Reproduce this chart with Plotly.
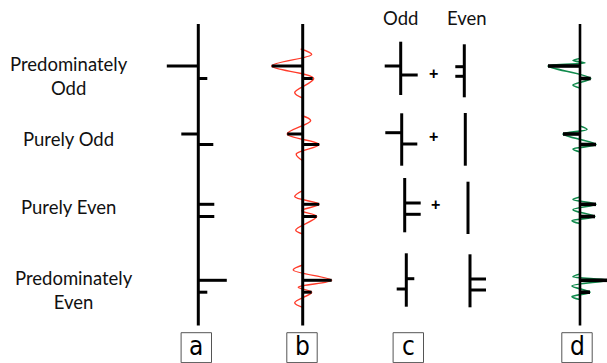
import plotly.graph_objects as go

# ---- data -------------------------------------------------------------
row_labels = ["Predominately<br>Odd", "Purely Odd", "Purely Even", "Predominately<br>Even"]
panel_labels = ["a", "b", "c", "d"]
component_labels = ["Odd", "Even"]

# two-way travel times of the top and base reflectors (ms, drawn downward)
t_top = [66.0, 134.0, 204.3, 280.3]
t_base = [78.5, 144.5, 216.5, 292.2]

# reflection coefficients (scaled) for the reflectivity columns
amp_top_a = [-31.5, -17.0, 16.0, 28.5]
amp_base_a = [9.0, 15.0, 16.0, 9.0]
amp_top_b = [-31.0, -15.5, 16.5, 29.0]
amp_base_b = [10.0, 16.5, 14.0, 9.0]
amp_top_d = [-32.0, -17.0, 16.0, 27.0]
amp_base_d = [10.7, 16.0, 15.0, 10.0]

# odd / even decomposition (column c): top and base coefficients
odd_top = [-16.0, -16.4, 16.0, 8.0]
odd_base = [17.0, 15.6, 16.0, -9.6]
odd_t_top = [66.0, 132.7, 203.0, 278.7]
odd_t_base = [75.0, 144.0, 214.3, 289.0]
odd_span = [(41.7, 95.0), (113.3, 165.7), (178.0, 232.3), (253.3, 306.7)]
even_top = [-9.0, 0.0, 0.0, 16.0]
even_base = [-9.0, 0.0, 0.0, 16.0]
even_t_top = [66.7, 0.0, 0.0, 279.0]
even_t_base = [76.3, 0.0, 0.0, 290.0]
even_span = [(44.3, 97.3), (113.0, 165.7), (181.7, 234.0), (254.3, 307.3)]

# band-limited seismic response: extrema of each wiggle (time, amplitude)
b_wig_t = [[49.0, 54.5, 66.0, 78.5, 92.5, 98.0],
           [115.5, 120.7, 134.0, 144.5, 154.0, 160.7],
           [190.7, 196.7, 204.3, 210.7, 216.5, 230.0, 234.0],
           [265.0, 270.0, 280.3, 287.3, 292.2, 302.7, 307.3]]
b_wig_a = [[-2.0, 9.0, -31.0, 11.0, -8.0, 0.0],
           [-1.0, 8.0, -15.5, 16.5, -6.5, 0.0],
           [0.0, -8.0, 16.5, -1.0, 14.0, -7.0, 0.0],
           [0.0, -9.5, 29.0, -4.4, 9.0, -8.0, 0.0]]

# broadband response (column d)
d_wig_t = [[58.5, 60.5, 63.0, 66.0, 78.5, 85.0, 88.0],
           [126.0, 129.5, 134.0, 144.5, 149.0, 152.0],
           [197.0, 199.5, 204.3, 209.7, 216.5, 220.7, 223.5],
           [274.0, 276.7, 280.3, 286.0, 292.2, 296.7, 299.5]]
d_wig_a = [[0.0, -7.0, 5.0, -32.0, 10.7, -7.0, 0.0],
           [0.0, 7.0, -17.0, 16.0, -7.0, 0.0],
           [0.0, -7.0, 16.0, -7.0, 15.0, -8.0, 0.0],
           [0.0, -7.0, 27.0, -8.0, 10.0, -8.0, 0.0]]

# ---- layout constants -------------------------------------------------
W, H = 607, 363
X_A, X_B, X_D = 198.3, 302.7, 580.0
X_ODD = [400.7, 401.7, 404.7, 406.3]
X_EVEN = [464.3, 465.3, 468.0, 470.0]
TRACE_SPAN = (24.0, 325.5)
BLACK = "#000000"
RED = "#ff3b2a"
GREEN = "#108a4c"

fig = go.Figure()


def add_line(xs, ys, color=BLACK, width=3.0, shape="linear"):
    fig.add_trace(go.Scatter(x=xs, y=ys, mode="lines", hoverinfo="skip",
                             line=dict(color=color, width=width, shape=shape,
                                       smoothing=1.0 if shape == "spline" else None),
                             showlegend=False))


def spikes(base, times, amps, width=3.0):
    xs, ys = [], []
    for t, a in zip(times, amps):
        if a == 0:
            continue
        xs += [base, base + a, None]
        ys += [t, t, None]
    if xs:
        add_line(xs, ys, width=width)


# column a: reflectivity
add_line([X_A, X_A], list(TRACE_SPAN))
spikes(X_A, t_top + t_base, amp_top_a + amp_base_a)

# column b: reflectivity convolved with a band-limited wavelet
for ts, amps in zip(b_wig_t, b_wig_a):
    add_line([X_B + a for a in amps], ts, color=RED, width=1.4, shape="spline")
add_line([X_B, X_B], list(TRACE_SPAN))
spikes(X_B, t_top + t_base, amp_top_b + amp_base_b)

# column d: broadband response
for ts, amps in zip(d_wig_t, d_wig_a):
    add_line([X_D + a for a in amps], ts, color=GREEN, width=1.7, shape="spline")
add_line([X_D, X_D], list(TRACE_SPAN), width=2.6)
spikes(X_D, t_top + t_base, amp_top_d + amp_base_d, width=3.6)

# column c: odd and even components
for i in range(4):
    add_line([X_ODD[i], X_ODD[i]], list(odd_span[i]))
    spikes(X_ODD[i], [odd_t_top[i], odd_t_base[i]], [odd_top[i], odd_base[i]])
    add_line([X_EVEN[i], X_EVEN[i]], list(even_span[i]))
    spikes(X_EVEN[i], [even_t_top[i], even_t_base[i]], [even_top[i], even_base[i]])

annotations = []
TEXT_FONT = dict(family="Lato, Liberation Sans, sans-serif", size=18.5, color="#111111")

# row captions
label_pos = [(69, 75.5), (68, 138.5), (68, 207), (74, 290)]
for txt, (x, y) in zip(row_labels, label_pos):
    annotations.append(dict(x=x, y=y, text=txt, showarrow=False, font=TEXT_FONT,
                            xanchor="center", yanchor="middle", align="center"))

# component headers
for txt, x in zip(component_labels, [400.0, 466.7]):
    annotations.append(dict(x=x, y=18, text=txt, showarrow=False, font=TEXT_FONT,
                            xanchor="center", yanchor="middle"))

# plus signs between components (first three rows)
for x, y in [(433.3, 73), (433.0, 136.7), (435.7, 204.3)]:
    annotations.append(dict(x=x, y=y, text="<b>+</b>", showarrow=False,
                            font=dict(family="Liberation Sans, sans-serif", size=16, color=BLACK),
                            xanchor="center", yanchor="middle"))

# panel letters in boxes
shapes = []
box_centers = [196.3, 302.0, 408.3, 577.0]
for lab, cx in zip(panel_labels, box_centers):
    shapes.append(dict(type="rect", xref="x", yref="y", x0=cx - 15.2, x1=cx + 15.2,
                       y0=332.7, y1=362.6, line=dict(color="#555555", width=1),
                       fillcolor="rgba(0,0,0,0)"))
    annotations.append(dict(x=cx, y=345.8, text=lab, showarrow=False, borderpad=0,
                            font=dict(family="Liberation Sans Narrow, DejaVu Sans Condensed, sans-serif",
                                      size=26, color=BLACK),
                            xanchor="center", yanchor="middle"))

fig.update_layout(
    width=W, height=H,
    margin=dict(l=0, r=0, t=0, b=0),
    paper_bgcolor="white", plot_bgcolor="white",
    xaxis=dict(range=[0, W], visible=False, fixedrange=True),
    yaxis=dict(range=[H, 0], visible=False, fixedrange=True),
    annotations=annotations,
    shapes=shapes,
    showlegend=False,
)

fig.write_html("out.html")
